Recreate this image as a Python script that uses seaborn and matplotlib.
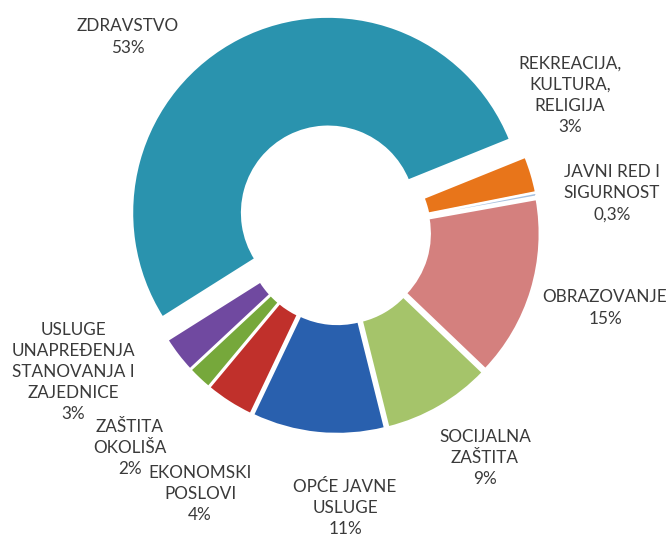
import matplotlib
matplotlib.use("Agg")
import matplotlib.pyplot as plt
import seaborn as sns

# data (clockwise from the big slice)
categories = ["ZDRAVSTVO", "REKREACIJA,\nKULTURA,\nRELIGIJA", "JAVNI RED I\nSIGURNOST",
              "OBRAZOVANJE", "SOCIJALNA\nZAŠTITA", "OPĆE JAVNE\nUSLUGE",
              "EKONOMSKI\nPOSLOVI", "ZAŠTITA\nOKOLIŠA",
              "USLUGE\nUNAPREĐENJA\nSTANOVANJA I\nZAJEDNICE"]
shares = [53, 3, 0.3, 15, 9, 11, 4, 2, 3]
share_labels = ["53%", "3%", "0,3%", "15%", "9%", "11%", "4%", "2%", "3%"]

colors = ["#2A93AE", "#E8751A", "#A6BFDD", "#D4807E", "#A5C46A",
          "#2960AE", "#C0302B", "#76A83B", "#7049A0"]
explode = [0.11, 0.03, 0.03, 0.03, 0.03, 0.03, 0.03, 0.03, 0.03]

# label centres in pixels (x from left, y from top) of a 667x536 canvas
label_px = [(128, 37), (570, 95), (612, 193), (605, 308), (485, 458),
            (345, 508), (200, 494), (130, 448), (73, 372)]

W, H = 667, 536
R = 196.0          # outer radius in px
CX, CY = 338, 232  # pie centre in px (from top)

sns.set_theme(style="white")
plt.rcParams["font.family"] = ["Lato", "DejaVu Sans"]

fig = plt.figure(figsize=(W / 100, H / 100), dpi=100)
ax = fig.add_axes([0, 0, 1, 1])

total = sum(shares)
start = 22 + 360 * shares[0] / total

ax.pie(shares, colors=colors, explode=explode, startangle=start,
       counterclock=False, radius=1.0,
       wedgeprops=dict(width=0.56, edgecolor="white", linewidth=1.5))

ax.set_xlim(-CX / R, (W - CX) / R)
ax.set_ylim(-(H - CY) / R, CY / R)
ax.axis("off")

for name, pct, (px, py) in zip(categories, share_labels, label_px):
    fig.text(px / W, 1 - py / H, f"{name}\n{pct}", ha="center", va="center",
             fontsize=12.3, color="#3A3A3A", linespacing=1.4)

fig.savefig("out.png", dpi=100, facecolor="white")
